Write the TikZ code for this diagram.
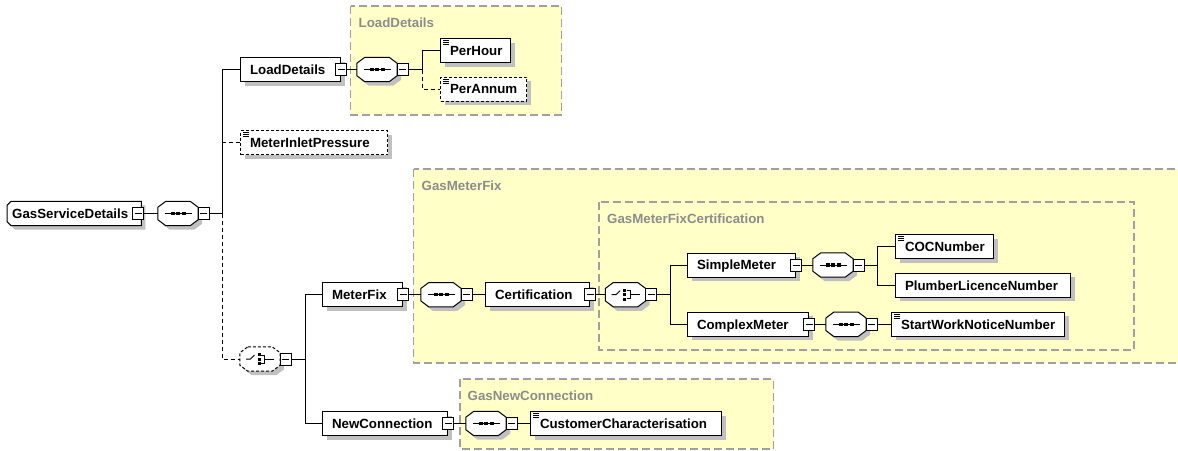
\documentclass[tikz,border=0pt]{standalone}
\usepackage{fontspec}
\setmainfont{Liberation Sans}
\usetikzlibrary{shadows,calc}
\definecolor{grpfill}{RGB}{255,255,200}
\definecolor{grpline}{RGB}{160,160,160}
\definecolor{grptext}{RGB}{140,140,140}
\definecolor{shd}{RGB}{192,192,192}
\tikzset{
 base/.style={font=\fontsize{13.3}{15}\selectfont\bfseries},
 elem/.style={base, draw=black, line width=1pt, fill=white, minimum height=24pt, inner ysep=0pt, inner xsep=9.5pt, text height=9.5pt, text depth=0pt, align=left, anchor=west, drop shadow={shadow xshift=4pt, shadow yshift=-4pt, fill=shd, opacity=1}},
 opt/.style={dash pattern=on 3pt off 2pt},
 grp/.style={draw=grpline, fill=grpfill, line width=1.2pt, dash pattern=on 8pt off 4pt},
 grptitle/.style={base, text=grptext, anchor=base west, inner sep=0pt},
 comp/.style={minimum width=40pt, minimum height=24pt, inner sep=0pt},
 mns/.style={draw=black, line width=1pt, fill=white, minimum width=11pt, minimum height=12pt, inner sep=0pt, path picture={\draw[line width=1pt] ([xshift=2pt]path picture bounding box.west) -- ([xshift=-2pt]path picture bounding box.east);}},
 conn/.style={line width=1pt, draw=black},
 dconn/.style={conn, dash pattern=on 4pt off 3pt},
}
\newcommand\octpath[1]{([xshift=8pt]#1.north west) -- ([xshift=-8pt]#1.north east) -- ([yshift=-6pt]#1.north east) -- ([yshift=6pt]#1.south east) -- ([xshift=-8pt]#1.south east) -- ([xshift=8pt]#1.south west) -- ([yshift=6pt]#1.south west) -- ([yshift=-6pt]#1.north west) -- cycle}
\newcommand\octo[2]{%
 \begin{scope}[transform canvas={xshift=4pt,yshift=-4pt}]\fill[shd] \octpath{#1};\end{scope}
 \draw[line width=1pt, fill=white, #2] \octpath{#1};}
\newcommand\seqsym[1]{%
 \draw[line width=1pt] ([xshift=-13pt]#1.center) -- ([xshift=14pt]#1.center);
 \foreach \d in {-5.5,0,5.5} \fill ([xshift=\d pt]#1.center) +(-2,-1.6) rectangle +(2,1.6);}
\newcommand\chsym[1]{%
 \draw[line width=1pt] ([xshift=-14pt]#1.center) -- ([xshift=-9.5pt]#1.center) -- ([xshift=-5.5pt,yshift=4pt]#1.center);
 \foreach \d in {-4.5,0,4.5} \fill ([xshift=-1pt,yshift=\d pt]#1.center) +(-1.5,-1.5) rectangle +(1.5,1.5);
 \draw[line width=1pt] ([xshift=1pt,yshift=4pt]#1.center) -- ([xshift=4.5pt,yshift=4pt]#1.center) -- ([xshift=4.5pt,yshift=-4pt]#1.center) -- ([xshift=1pt,yshift=-4pt]#1.center);
 \draw[line width=1pt] ([xshift=4.5pt]#1.center) -- ([xshift=14pt]#1.center);}
\newcommand\icon[1]{%
 \foreach \d in {2.5,4.5,6.5} \draw[line width=0.7pt] ([xshift=3pt,yshift=-\d pt]#1.north west) -- ++(6,0);}
\begin{document}
\begin{tikzpicture}[x=1pt,y=-1pt]
\useasboundingbox (0,0) rectangle (1178,450);
\fill[white] (0,0) rectangle (1178,450);
% groups
\draw[grp] (350.5,6) rectangle (561.5,115);
\node[grptitle] (tld) at (358.5,27.5) {LoadDetails};
\draw[grp] (413.5,169) rectangle (1200,363);
\node[grptitle] (tgmf) at (421.5,190) {GasMeterFix};
\draw[grp] (599,202) rectangle (1134,350);
\node[grptitle] (tgmfc) at (607,223) {GasMeterFixCertification};
\draw[grp] (460,379) rectangle (773.5,449);
\node[grptitle] (tgnc) at (467.5,400) {GasNewConnection};
% root
\node[comp, minimum width=134pt, anchor=west] (gsd) at (7,213.5) {};
\begin{scope}[transform canvas={xshift=4pt,yshift=-4pt}]
\fill[shd] ([xshift=4pt]gsd.north west) -- (gsd.north east) -- (gsd.south east) -- ([xshift=4pt]gsd.south west) -- ([yshift=4pt]gsd.south west) -- ([yshift=-4pt]gsd.north west) -- cycle;
\end{scope}
\draw[line width=1pt, fill=white] ([xshift=4pt]gsd.north west) -- (gsd.north east) -- (gsd.south east) -- ([xshift=4pt]gsd.south west) -- ([yshift=4pt]gsd.south west) -- ([yshift=-4pt]gsd.north west) -- cycle;
\node[base, anchor=west, inner sep=0pt, text height=9.5pt, text depth=0pt] (gsdt) at ([xshift=5pt]gsd.west) {GasServiceDetails};
\node[mns] (m0) at (138,213.5) {};
% sequence 1
\node[comp] (s1) at (178,213.5) {};
\octo{s1}{}
\seqsym{s1}
\node[mns] (ms1) at ([xshift=5.5pt]s1.east) {};
\coordinate (b1) at (222,213.5);
% LoadDetails
\node[elem, text width=81pt] (ld) at (240,69.5) {LoadDetails};
\node[mns] (mld) at (ld.east) {};
\node[comp] (s2) at (377,69.5) {};
\octo{s2}{}
\seqsym{s2}
\node[mns] (ms2) at ([xshift=5.5pt]s2.east) {};
\coordinate (b2) at (422,69.5);
\node[elem, text width=51pt] (ph) at (440,50.5) {PerHour};
\icon{ph}
\node[elem, opt, text width=67pt] (pa) at (440,89) {PerAnnum};
\icon{pa}
% MeterInletPressure
\node[elem, opt, text width=128pt] (mip) at (240,142.5) {MeterInletPressure};
\icon{mip}
% choice 1
\node[comp] (c1) at (260,359) {};
\octo{c1}{opt}
\chsym{c1}
\node[mns] (mc1) at ([xshift=5.5pt]c1.east) {};
\coordinate (b3) at (305,359);
% MeterFix
\node[elem, text width=61pt] (mf) at (322,294.7) {MeterFix};
\node[mns] (mmf) at (mf.east) {};
\node[comp] (s3) at (441,294.7) {};
\octo{s3}{}
\seqsym{s3}
\node[mns] (ms3) at ([xshift=5.5pt]s3.east) {};
\node[elem, text width=85pt] (cert) at (485,294.7) {Certification};
\node[mns] (mcert) at (cert.east) {};
\node[comp] (c2) at (625.5,294.7) {};
\octo{c2}{}
\chsym{c2}
\node[mns] (mc2) at ([xshift=5.5pt]c2.east) {};
\coordinate (b4) at (670,294.7);
\node[elem, text width=89pt] (sm) at (687,265) {SimpleMeter};
\node[mns] (msm) at (sm.east) {};
\node[comp] (s4) at (833,265) {};
\octo{s4}{}
\seqsym{s4}
\node[mns] (ms4) at ([xshift=5.5pt]s4.east) {};
\coordinate (b5) at (877.5,265);
\node[elem, text width=79pt] (coc) at (895,246.5) {COCNumber};
\icon{coc}
\node[elem, text width=156pt] (pln) at (895,285.3) {PlumberLicenceNumber};
\node[elem, text width=102pt] (cm) at (687,324.3) {ComplexMeter};
\node[mns] (mcm) at (cm.east) {};
\node[comp] (s5) at (846,324.3) {};
\octo{s5}{}
\seqsym{s5}
\node[mns] (ms5) at ([xshift=5.5pt]s5.east) {};
\node[elem, text width=154pt] (swnn) at (891,324.3) {StartWorkNoticeNumber};
\icon{swnn}
% NewConnection
\node[elem, text width=106pt] (nc) at (322,423.5) {NewConnection};
\node[mns] (mnc) at (nc.east) {};
\node[comp] (s6) at (486,423.5) {};
\octo{s6}{}
\seqsym{s6}
\node[mns] (ms6) at ([xshift=5.5pt]s6.east) {};
\node[elem, text width=172pt] (cc) at (530,423.5) {CustomerCharacterisation};
\icon{cc}
% connectors
\draw[conn] (m0.east) -- (s1.west);
\draw[conn] (ms1.east) -- (b1);
\draw[conn] (b1) |- (ld.west);
\draw[dconn] (b1 |- mip.west) -- (mip.west);
\draw[dconn] (b1) |- (c1.west);
\draw[conn] (mld.east) -- (s2.west);
\draw[conn] (ms2.east) -- (b2);
\draw[conn] (b2) |- (ph.west);
\draw[dconn] (b2) |- (pa.west);
\draw[conn] (mc1.east) -- (b3);
\draw[conn] (b3) |- (mf.west);
\draw[conn] (b3) |- (nc.west);
\draw[conn] (mmf.east) -- (s3.west);
\draw[conn] (ms3.east) -- (cert.west);
\draw[conn] (mcert.east) -- (c2.west);
\draw[conn] (mc2.east) -- (b4);
\draw[conn] (b4) |- (sm.west);
\draw[conn] (b4) |- (cm.west);
\draw[conn] (msm.east) -- (s4.west);
\draw[conn] (ms4.east) -- (b5);
\draw[conn] (b5) |- (coc.west);
\draw[conn] (b5) |- (pln.west);
\draw[conn] (mcm.east) -- (s5.west);
\draw[conn] (ms5.east) -- (swnn.west);
\draw[conn] (mnc.east) -- (s6.west);
\draw[conn] (ms6.east) -- (cc.west);
\end{tikzpicture}
\end{document}
